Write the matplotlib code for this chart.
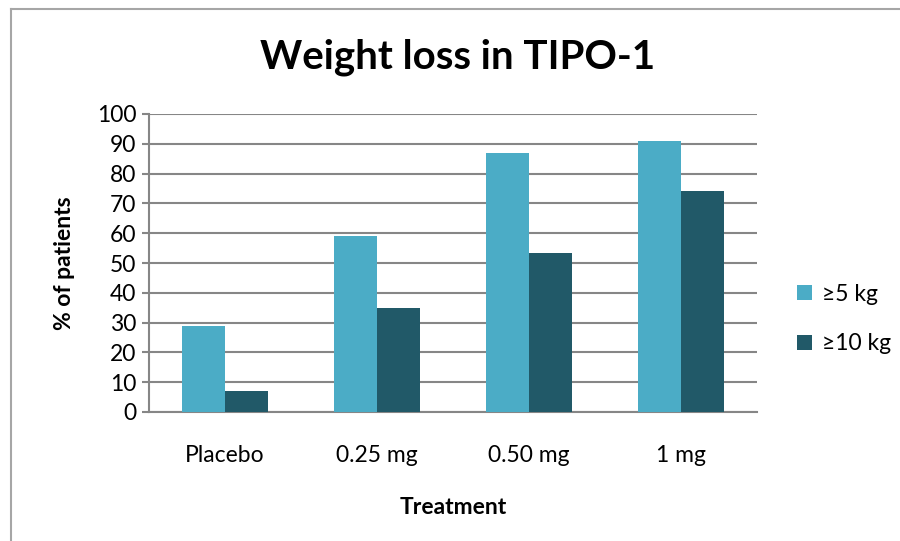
import matplotlib.pyplot as plt
import numpy as np
from matplotlib.lines import Line2D

plt.rcParams['font.family'] = ['Lato', 'DejaVu Sans']

treatments = ['Placebo', '0.25 mg', '0.50 mg', '1 mg']
loss_5kg = [29, 59, 87, 91]
loss_10kg = [7, 35, 53.5, 74]
series_names = ['\u22655 kg', '\u226510 kg']

c_light = '#4BACC6'
c_dark = '#215968'
grid_c = '#868686'
fnt = 16.5

fig = plt.figure(figsize=(9, 5.41), dpi=100)
ax = fig.add_axes([149/900, 1-412/541, (757-149)/900, (412-114)/541])

# chart frame, left and top edges
fx, fy = 11/900, 1-9/541
fig.lines.append(Line2D([fx, fx], [0, fy], transform=fig.transFigure, color='#a6a6a6', lw=1.5))
fig.lines.append(Line2D([fx, 1], [fy, fy], transform=fig.transFigure, color='#a6a6a6', lw=1.5))

x = np.arange(len(treatments))
w = 1/3.5
ax.bar(x - w/2, loss_5kg, w, color=c_light, label=series_names[0], zorder=3)
ax.bar(x + w/2, loss_10kg, w, color=c_dark, label=series_names[1], zorder=3)

ax.set_xlim(-0.5, 3.5)
ax.set_ylim(0, 100)
ax.set_yticks(range(0, 101, 10))
ax.yaxis.grid(True, color=grid_c, lw=1.5, zorder=0)
ax.set_axisbelow(True)
for s in ['top', 'right']:
    ax.spines[s].set_visible(False)
ax.spines['left'].set_color(grid_c)
ax.spines['left'].set_linewidth(1.5)
ax.spines['bottom'].set_color(grid_c)
ax.spines['bottom'].set_linewidth(1.5)
ax.tick_params(axis='y', length=5, width=1.5, color=grid_c, labelsize=fnt, pad=4)
ax.tick_params(axis='x', length=0, labelsize=fnt, pad=24)
ax.set_xticks(x)
ax.set_xticklabels(treatments)

ax.set_ylabel('% of patients', fontsize=fnt, fontweight='bold', labelpad=16)
ax.set_xlabel('Treatment', fontsize=fnt, fontweight='bold', labelpad=22)
fig.text(458/900, 1-57/541, 'Weight loss in TIPO-1', ha='center', va='center',
         fontsize=29, fontweight='bold')

fig.legend(loc='center left', bbox_to_anchor=(776/900, 1-319/541), frameon=False,
           fontsize=fnt, handlelength=0.65, handleheight=0.65, labelspacing=1.25,
           handletextpad=0.45)

fig.savefig('out.png', dpi=100)
